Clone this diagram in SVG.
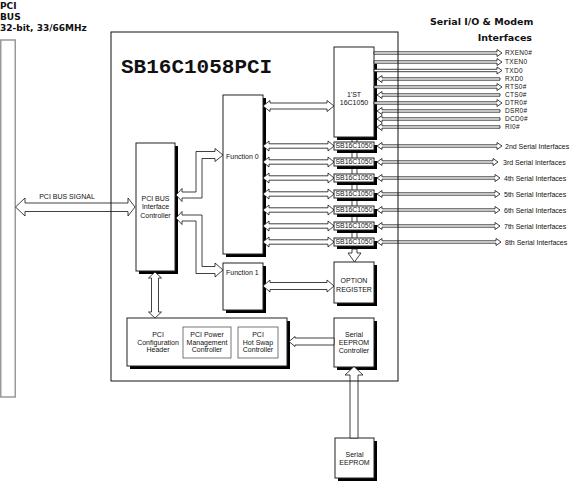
<svg xmlns="http://www.w3.org/2000/svg" width="580" height="481" viewBox="0 0 580 481">
<style>
.bx{fill:#fff;stroke:#222;stroke-width:1}
.sh{fill:#000}
.ib{fill:#fff;stroke:#555;stroke-width:0.8}
.t{font-family:"Liberation Sans",Arial,sans-serif;font-size:7px;fill:#111}
.c{text-anchor:middle}
.u{font-size:6.4px}
.h{font-family:"DejaVu Sans",Verdana,sans-serif;font-weight:bold;fill:#111}
.ar{fill:#fff;stroke:#111;stroke-width:0.8;stroke-linejoin:miter}
.ln{fill:none;stroke:#111;stroke-width:0.8}
.sg{font-family:"Liberation Sans",Arial,sans-serif;font-size:6.5px;fill:#111;letter-spacing:0.3px}
</style>
<rect width="580" height="481" fill="#fff"/>

<g id="pci-bus">
  <rect x="0.75" y="40" width="14.5" height="357" fill="none" stroke="#999" stroke-width="1.5"/>
  <text class="h" x="0" y="9" font-size="9">PCI</text>
  <text class="h" x="0" y="19.5" font-size="9">BUS</text>
  <text class="h" x="0" y="31" font-size="9">32-bit, 33/66MHz</text>
</g>

<g id="serial-title">
  <text class="h" x="430" y="25" font-size="9.5">Serial I/O &amp; Modem</text>
  <text class="h" x="532" y="40.5" font-size="9.5" text-anchor="end">Interfaces</text>
</g>

<g id="pci-bus-controller">
  <rect class="sh" x="139" y="146" width="39" height="128"/>
  <rect class="bx" x="136" y="143" width="39" height="128"/>
  <text class="t c" x="155.5" y="200.5">PCI BUS</text>
  <text class="t c" x="155.5" y="209">Interface</text>
  <text class="t c" x="155.5" y="217.5">Controller</text>
</g>

<g id="function0">
  <rect class="sh" x="226" y="98" width="40" height="159"/>
  <rect class="bx" x="223" y="95" width="40" height="159"/>
  <text class="t" x="226" y="158.5">Function 0</text>
</g>

<g id="function1">
  <rect class="sh" x="226" y="266" width="40" height="47"/>
  <rect class="bx" x="223" y="263" width="40" height="47"/>
  <text class="t" x="226" y="275">Function 1</text>
</g>

<g id="uart1">
  <path class="sh" d="M374,64 H377 V140 H337 V137 H374 Z"/>
  <rect class="bx" x="334" y="47" width="40" height="90"/>
  <text class="t c" x="354" y="96.5">1'ST</text>
  <text class="t c" x="354" y="105">16C1050</text>
</g>

<g id="uart2"><rect class="sh" x="337" y="145" width="40" height="8"/><rect class="bx" x="334" y="142" width="40" height="8"/><text class="t c u" x="354" y="148.4" textLength="37" lengthAdjust="spacingAndGlyphs">SB16C1050</text></g>
<g id="uart3"><rect class="sh" x="337" y="161" width="40" height="8"/><rect class="bx" x="334" y="158" width="40" height="8"/><text class="t c u" x="354" y="164.4" textLength="37" lengthAdjust="spacingAndGlyphs">SB16C1050</text></g>
<g id="uart4"><rect class="sh" x="337" y="177" width="40" height="8"/><rect class="bx" x="334" y="174" width="40" height="8"/><text class="t c u" x="354" y="180.4" textLength="37" lengthAdjust="spacingAndGlyphs">SB16C1050</text></g>
<g id="uart5"><rect class="sh" x="337" y="193" width="40" height="8"/><rect class="bx" x="334" y="190" width="40" height="8"/><text class="t c u" x="354" y="196.4" textLength="37" lengthAdjust="spacingAndGlyphs">SB16C1050</text></g>
<g id="uart6"><rect class="sh" x="337" y="209" width="40" height="8"/><rect class="bx" x="334" y="206" width="40" height="8"/><text class="t c u" x="354" y="212.4" textLength="37" lengthAdjust="spacingAndGlyphs">SB16C1050</text></g>
<g id="uart7"><rect class="sh" x="337" y="225" width="40" height="8"/><rect class="bx" x="334" y="222" width="40" height="8"/><text class="t c u" x="354" y="228.4" textLength="37" lengthAdjust="spacingAndGlyphs">SB16C1050</text></g>
<g id="uart8"><rect class="sh" x="337" y="241" width="40" height="8"/><rect class="bx" x="334" y="238" width="40" height="8"/><text class="t c u" x="354" y="244.4" textLength="37" lengthAdjust="spacingAndGlyphs">SB16C1050</text></g>

<g id="option-register">
  <rect class="sh" x="337" y="265" width="40" height="41"/>
  <rect class="bx" x="334" y="262" width="40" height="41"/>
  <text class="t c" x="354" y="283">OPTION</text>
  <text class="t c" x="354" y="291.5">REGISTER</text>
</g>

<g id="pci-config">
  <rect class="sh" x="130" y="321" width="160" height="48"/>
  <rect class="bx" x="127" y="318" width="160" height="48"/>
  <text class="t c" x="158" y="337">PCI</text>
  <text class="t c" x="158" y="344.5">Configuration</text>
  <text class="t c" x="158" y="352">Header</text>
  <g id="pci-power">
    <rect class="ib" x="183" y="327" width="48" height="31"/>
    <text class="t c" x="207" y="337">PCI Power</text>
    <text class="t c" x="207" y="344.5">Management</text>
    <text class="t c" x="207" y="352">Controller</text>
  </g>
  <g id="pci-hotswap">
    <rect class="ib" x="238" y="327" width="40" height="31"/>
    <text class="t c" x="258" y="337">PCI</text>
    <text class="t c" x="258" y="344.5">Hot Swap</text>
    <text class="t c" x="258" y="352">Controller</text>
  </g>
</g>

<g id="eeprom-controller">
  <rect class="sh" x="337" y="321" width="40" height="49"/>
  <rect class="bx" x="334" y="318" width="40" height="49"/>
  <text class="t c" x="354" y="337">Serial</text>
  <text class="t c" x="354" y="345">EEPROM</text>
  <text class="t c" x="354" y="353">Controller</text>
</g>

<g id="serial-eeprom">
  <rect class="sh" x="338" y="441" width="39" height="40"/>
  <rect class="bx" x="335" y="438" width="39" height="40"/>
  <text class="t c" x="354.5" y="456.5">Serial</text>
  <text class="t c" x="354.5" y="464.5">EEPROM</text>
</g>

<g id="connectors">
  <path class="ar" d="M15.5,207 L25,198 L25,203 L128,203 L128,198 L135,207 L128,216 L128,211.5 L25,211.5 L25,216 Z"/>
  <text class="t c" x="67" y="199" font-size="7.5">PCI BUS SIGNAL</text>
  <path class="ar" d="M176,195 L182,188.5 L182,192 L196,192 L196,151.5 L215,151.5 L215,148.5 L223,155 L215,161.5 L215,158.5 L202,158.5 L202,198 L182,198 L182,201.5 Z"/>
  <path class="ar" d="M176,218 L182,211.5 L182,215 L202,215 L202,266.5 L215,266.5 L215,263 L223,270 L215,277 L215,273.5 L196,273.5 L196,221 L182,221 L182,224.5 Z"/>
  <path class="ar" d="M155,272 L161.5,278 L158.5,278 L158.5,312 L161.5,312 L155,318 L148.5,312 L151.5,312 L151.5,278 L148.5,278 Z"/>
  <path class="ar" d="M263,106 L270,100.5 L270,103 L327,103 L327,100.5 L334,106 L327,111.5 L327,109 L270,109 L270,111.5 Z"/>
  <path class="ar" d="M263,146 L269,141 L269,143.8 L328,143.8 L328,141 L334,146 L328,151 L328,148.2 L269,148.2 L269,151 Z"/>
  <path class="ar" d="M263,162 L269,157 L269,159.8 L328,159.8 L328,157 L334,162 L328,167 L328,164.2 L269,164.2 L269,167 Z"/>
  <path class="ar" d="M263,178 L269,173 L269,175.8 L328,175.8 L328,173 L334,178 L328,183 L328,180.2 L269,180.2 L269,183 Z"/>
  <path class="ar" d="M263,194 L269,189 L269,191.8 L328,191.8 L328,189 L334,194 L328,199 L328,196.2 L269,196.2 L269,199 Z"/>
  <path class="ar" d="M263,210 L269,205 L269,207.8 L328,207.8 L328,205 L334,210 L328,215 L328,212.2 L269,212.2 L269,215 Z"/>
  <path class="ar" d="M263,226 L269,221 L269,223.8 L328,223.8 L328,221 L334,226 L328,231 L328,228.2 L269,228.2 L269,231 Z"/>
  <path class="ar" d="M263,242 L269,237 L269,239.8 L328,239.8 L328,237 L334,242 L328,247 L328,244.2 L269,244.2 L269,247 Z"/>
  <path class="ar" d="M263,286 L270,280 L270,282.5 L327,282.5 L327,280 L334,286 L327,292 L327,289.5 L270,289.5 L270,292 Z"/>
  <path class="ln" d="M352,140 V142 M357,140 V142 M352,153 V158 M357,153 V158 M352,169 V174 M357,169 V174 M352,185 V190 M357,185 V190 M352,201 V206 M357,201 V206 M352,217 V222 M357,217 V222 M352,233 V238 M357,233 V238"/>
  <path class="ar" d="M352,249 L352,253 L348,253 L354.5,262 L361,253 L357,253 L357,249 Z"/>
  <path class="ar" d="M289,341.5 L295,336.5 L295,338 L334,338 L334,345 L295,345 L295,346.5 Z"/>
  <path class="ar" d="M354,366.5 L363,375 L358,375 L358,438 L350,438 L350,375 L345,375 Z"/>
  <path class="ar" d="M374,51.8 L497,51.8 L497,49.5 L502,53 L497,56.5 L497,54.2 L374,54.2 Z"/>
  <path class="ar" d="M374,60.8 L497,60.8 L497,58.5 L502,62 L497,65.5 L497,63.2 L374,63.2 Z"/>
  <path class="ar" d="M374,69.3 L497,69.3 L497,67 L502,70.5 L497,74 L497,71.7 L374,71.7 Z"/>
  <path class="ar" d="M377,79 L382,75.5 L382,77.8 L500,77.8 L500,80.2 L382,80.2 L382,82.5 Z"/>
  <path class="ar" d="M374,85.8 L497,85.8 L497,83.5 L502,87 L497,90.5 L497,88.2 L374,88.2 Z"/>
  <path class="ar" d="M377,95 L382,91.5 L382,93.8 L500,93.8 L500,96.2 L382,96.2 L382,98.5 Z"/>
  <path class="ar" d="M374,101.8 L497,101.8 L497,99.5 L502,103 L497,106.5 L497,104.2 L374,104.2 Z"/>
  <path class="ar" d="M377,111 L382,107.5 L382,109.8 L500,109.8 L500,112.2 L382,112.2 L382,114.5 Z"/>
  <path class="ar" d="M377,119 L382,115.5 L382,117.8 L500,117.8 L500,120.2 L382,120.2 L382,122.5 Z"/>
  <path class="ar" d="M377,127 L382,123.5 L382,125.8 L500,125.8 L500,128.2 L382,128.2 L382,130.5 Z"/>
  <text class="sg" x="505" y="55.3">RXEN0#</text>
  <text class="sg" x="505" y="64.3">TXEN0</text>
  <text class="sg" x="505" y="72.8">TXD0</text>
  <text class="sg" x="505" y="81.3">RXD0</text>
  <text class="sg" x="505" y="89.3">RTS0#</text>
  <text class="sg" x="505" y="97.3">CTS0#</text>
  <text class="sg" x="505" y="105.3">DTR0#</text>
  <text class="sg" x="505" y="113.3">DSR0#</text>
  <text class="sg" x="505" y="121.3">DCD0#</text>
  <text class="sg" x="505" y="129.3">RI0#</text>
  <path class="ar" d="M377,146 L382,142.5 L382,144.8 L497,144.8 L497,142.5 L502,146 L497,149.5 L497,147.2 L382,147.2 L382,149.5 Z"/>
  <path class="ar" d="M377,162 L382,158.5 L382,160.8 L493,160.8 L493,158.5 L498,162 L493,165.5 L493,163.2 L382,163.2 L382,165.5 Z"/>
  <path class="ar" d="M377,178 L382,174.5 L382,176.8 L495,176.8 L495,174.5 L500,178 L495,181.5 L495,179.2 L382,179.2 L382,181.5 Z"/>
  <path class="ar" d="M377,194 L382,190.5 L382,192.8 L495,192.8 L495,190.5 L500,194 L495,197.5 L495,195.2 L382,195.2 L382,197.5 Z"/>
  <path class="ar" d="M377,210 L382,206.5 L382,208.8 L495,208.8 L495,206.5 L500,210 L495,213.5 L495,211.2 L382,211.2 L382,213.5 Z"/>
  <path class="ar" d="M377,226 L382,222.5 L382,224.8 L495,224.8 L495,222.5 L500,226 L495,229.5 L495,227.2 L382,227.2 L382,229.5 Z"/>
  <path class="ar" d="M377,242 L382,238.5 L382,240.8 L496,240.8 L496,238.5 L501,242 L496,245.5 L496,243.2 L382,243.2 L382,245.5 Z"/>
  <text class="t" x="505" y="148.5">2nd Serial Interfaces</text>
  <text class="t" x="503" y="164.5">3rd Serial Interfaces</text>
  <text class="t" x="504" y="180.5">4th Serial Interfaces</text>
  <text class="t" x="504" y="196.5">5th Serial Interfaces</text>
  <text class="t" x="504" y="212.5">6th Serial Interfaces</text>
  <text class="t" x="504" y="228.5">7th Serial Interfaces</text>
  <text class="t" x="505" y="244.5">8th Serial Interfaces</text>
</g>

<g id="chip">
  <rect x="111" y="32" width="287" height="349" fill="none" stroke="#111" stroke-width="1"/>
  <text x="121" y="73" font-family="'Liberation Mono','Courier New',monospace" font-weight="bold" font-size="21" fill="#111">SB16C1058PCI</text>
</g>
</svg>
